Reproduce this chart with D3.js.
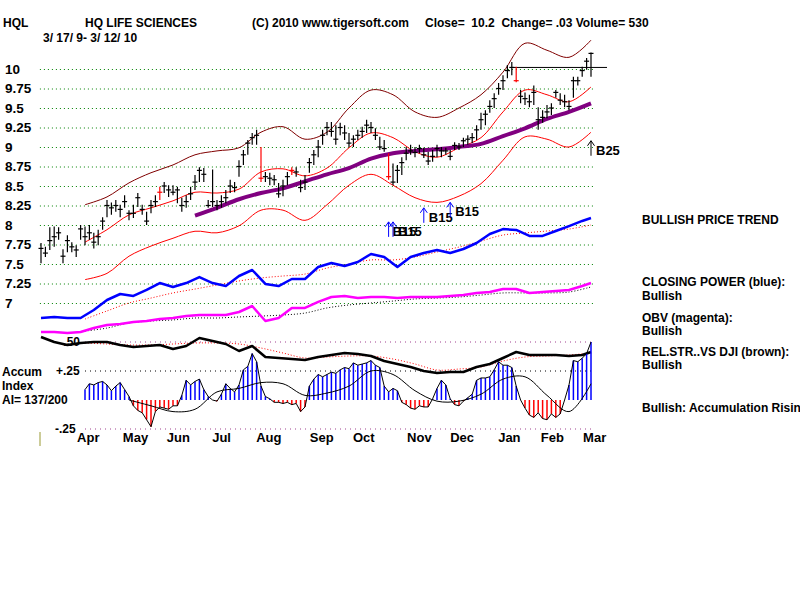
<!DOCTYPE html>
<html>
<head>
<meta charset="utf-8">
<script src="https://cdn.jsdelivr.net/npm/d3@7"></script>
<style>
  body { margin: 0; background: #fff; }
  svg text { font-family: Arial, "Liberation Sans", sans-serif; font-weight: bold; font-size: 12px; fill: #000; }
</style>
</head>
<body>
<script>
// ---- price bars, two trading days per bar (3/17/09 - 3/12/10) ----
const hi = [7.77,7.72,7.97,7.98,7.97,7.69,7.87,7.78,7.74,8.00, 7.98,8.00,7.90,7.94,8.10,8.32,8.29,8.32,8.26,8.38,
  8.19,8.26,8.41,8.26,8.17,8.32,8.38,8.49,8.55,8.51, 8.51,8.49,8.35,8.38,8.49,8.64,8.74,8.73,8.32,8.71,
  8.32,8.38,8.45,8.58,8.55,8.83,8.96,9.09,9.18,9.22, 9.00,8.68,8.67,8.64,8.54,8.58,8.68,8.74,8.74,8.58,
  8.64,8.86,8.96,9.09,9.22,9.32,9.32,9.28,9.31,9.28, 9.18,9.15,9.22,9.26,9.35,9.32,9.24,9.13,9.09,8.92,
  8.79,8.77,8.87,9.00,9.03,9.00,9.03,8.99,8.94,8.96, 9.03,9.00,8.99,8.96,9.06,9.05,9.12,9.15,9.18,9.28,
  9.44,9.47,9.60,9.69,9.82,9.92,10.05,10.09,10.03,9.73, 9.70,9.67,9.79,9.51,9.47,9.54,9.56,9.73,9.69,9.67,
  9.60,9.90,9.90,10.03,10.14,10.21];
const lo = [7.51,7.59,7.68,7.72,7.81,7.51,7.65,7.65,7.59,7.81, 7.74,7.81,7.70,7.74,7.94,8.10,8.13,8.17,8.10,8.22,
  8.06,8.09,8.23,8.13,8.00,8.15,8.23,8.32,8.41,8.36, 8.38,8.28,8.17,8.22,8.32,8.45,8.55,8.55,8.22,8.23,
  8.19,8.22,8.28,8.41,8.42,8.62,8.77,8.90,9.03,9.03, 8.55,8.55,8.51,8.51,8.35,8.37,8.51,8.64,8.62,8.42,
  8.45,8.67,8.77,8.87,9.03,9.15,9.13,9.03,9.15,9.09, 9.00,9.00,9.09,9.12,9.18,9.18,9.09,8.96,8.94,8.58,
  8.51,8.54,8.64,8.83,8.90,8.87,8.92,8.86,8.77,8.81, 8.87,8.87,8.90,8.83,8.96,8.96,9.00,9.03,9.05,9.09,
  9.22,9.28,9.44,9.50,9.67,9.73,9.88,9.92,9.83,9.56, 9.54,9.51,9.54,9.22,9.31,9.37,9.41,9.63,9.54,9.51,
  9.47,9.63,9.79,9.90,9.99,9.90];
const cl = [7.70,7.64,7.80,7.85,7.90,7.60,7.80,7.72,7.68,7.95, 7.85,7.90,7.78,7.85,8.05,8.25,8.22,8.25,8.20,8.30,
  8.15,8.15,8.35,8.20,8.05,8.25,8.30,8.42,8.50,8.45, 8.42,8.45,8.25,8.30,8.40,8.55,8.70,8.65,8.25,8.30,
  8.25,8.30,8.35,8.50,8.48,8.75,8.90,9.05,9.12,9.15, 8.60,8.62,8.60,8.58,8.40,8.50,8.62,8.70,8.68,8.48,
  8.55,8.80,8.90,9.00,9.15,9.25,9.20,9.10,9.25,9.18, 9.05,9.10,9.15,9.20,9.28,9.25,9.15,9.00,8.98,8.62,
  8.55,8.70,8.80,8.92,8.95,8.93,8.98,8.90,8.82,8.88, 8.98,8.95,8.95,8.88,9.02,9.00,9.08,9.10,9.12,9.22,
  9.35,9.42,9.52,9.62,9.75,9.85,9.98,10.02,9.85,9.65, 9.62,9.58,9.70,9.35,9.38,9.45,9.50,9.70,9.60,9.58,
  9.52,9.85,9.85,9.98,10.10,10.20];
const redBars = [27, 50, 57, 79, 108];

// ---- bands and 50-day average, sampled every 5 bars ----
const idx5 = d3.range(0, 126, 5);
const bandUpper = [null,null,8.26,8.36,8.54,8.67,8.77,8.90,8.95,8.99,9.19,9.26,9.10,9.19,9.50,9.73,9.67,9.45,9.38,9.50,9.67,9.96,10.33,10.24,10.15,10.37];
const bandMid   = [null,null,7.78,7.94,8.13,8.22,8.31,8.42,8.41,8.46,8.68,8.72,8.63,8.73,8.99,9.18,9.12,8.94,8.87,8.99,9.12,9.45,9.73,9.67,9.58,9.77];
const bandLower = [null,null,7.30,7.38,7.60,7.73,7.83,7.92,7.90,7.99,8.19,8.19,8.06,8.26,8.51,8.65,8.51,8.35,8.29,8.37,8.53,8.83,9.13,9.10,9.00,9.19];
const ma50 = [null,null,null,null,null,null,null,8.12,8.22,8.33,8.41,8.47,8.56,8.65,8.73,8.85,8.92,8.95,8.97,9.00,9.04,9.14,9.24,9.36,9.45,9.56];

// ---- indicators, sampled every 3 bars ----
const idx3 = d3.range(0, 124, 3).concat([125]);
const closingPower = [28,28.7,28,28,33.3,40,44,42.7,46.7,51.3,48.7,51.3,55.3,51.3,49.3,56,60,50.7,49.3,54,54,62,64.7,62.7,65.3,70.7,68.7,62,68.7,71.3,73.3,71.3,74,78,84,87.3,86.7,82.7,82.7,86,89.3,92.7,94.7];
const closingPowerMa = [null,null,27.3,32.7,38,41.3,44.7,47.3,50,52.7,54.7,56,57.3,61.3,64,66.7,66.7,68.7,72,75.3,79.3,83.3,84.7,86,87.3,90];
const obv = [18.7,18.7,18,18.7,21.3,23.3,24,25.3,26,27.3,28,29.3,30,30,30,32,36,26,28,34.7,34.7,38.7,42,42.7,41.3,42,42,41.3,42,42,42,42.7,43.3,44.7,45.3,47.3,47.3,44.7,45.3,46,46.7,49.3,51.3];
const obvMa = [null,null,19.3,21.3,24.7,26,26.7,28,28,28.7,29.3,30,31.3,34.7,36.7,38,39.3,40.7,41.3,42,43.3,44.7,44.7,44.7,45.3,48.7];
const relStr = [86,76,70,74,76,76,70,66,68,70,62,68,84,78,72,58,68,46,44,42,40,46,50,54,52,48,38,32,26,18,14,16,16,26,32,44,56,50,50,50,48,50,56];
const relStrMa = [null,null,74,72,70,70,72,74,74,72,64,54,44,46,48,48,42,32,20,22,26,38,46,48,50,54];

// ---- accumulation index, one value per bar ----
const accum = [null,null,null,null,null,null,null,null,null,null,
  .09,.14,.13,.15,.16,.13,.08,.12,.15,.09, .03,-.05,-.09,-.11,-.17,-.23,-.1,-.06,-.07,-.08,
  -.05,-.05,.04,.17,.13,.16,.18,.09,.03,0, -.01,.05,.14,.1,.07,.13,.26,.29,.4,.33,
  .12,.03,.01,-.02,-.02,-.03,-.02,-.04,-.03,-.1, -.06,.12,.18,.22,.2,.22,.24,.23,.26,.28,
  .27,.32,.3,.31,.32,.34,.3,.28,.12,.07, .1,.08,-.02,-.04,-.07,-.08,-.05,-.06,-.06,.01,
  .1,.17,.13,.01,-.04,-.05,-.01,.02,.05,.17, .19,.19,.2,.26,.33,.3,.3,.28,.12,0,
  -.07,-.13,-.15,-.11,-.16,-.17,-.12,-.15,-.12,0, .13,.34,.33,.36,.4,.5];
const accumMa = [null,null,null,null,0,-.05,-.1,-.08,.07,.1,.15,.14,.04,.06,.12,.25,.22,.08,-.01,-.01,.05,.18,.2,.04,-.1,.14];

// ---- axis labels, signals, side notes ----
const priceTicks = [10, 9.75, 9.5, 9.25, 9, 8.75, 8.5, 8.25, 8, 7.75, 7.5, 7.25, 7];
const months = ['Apr','May','Jun','Jul','Aug','Sep','Oct','Nov','Dec','Jan','Feb','Mar'];
const monthIdx = [8.2, 18.6, 28.6, 38.9, 48.9, 61.1, 70.9, 83.2, 93, 103.9, 113.6, 123.2];
const sigIdx = [79, 80, 87, 93, 125];
const sigPrice = [8.04, 8.04, 8.22, 8.29, 9.08];
const sigLabel = ['B15', 'B15', 'B15', 'B15', 'B25'];
const sigBlue = [true, true, true, true, false];
const resistanceFrom = 107, resistanceLevel = 10.02;
const sideNotes = [
  ['BULLISH PRICE TREND', 220], ['CLOSING POWER (blue):', 282], ['Bullish', 296],
  ['OBV (magenta):', 318], ['Bullish', 331], ['REL.STR..VS DJI (brown):', 352], ['Bullish', 365],
  ['Bullish: Accumulation Rising', 408]
];

const svg = d3.select('body').append('svg').attr('width', 800).attr('height', 600);

const x = d3.scaleLinear().domain([0, 125]).range([41, 591]);
const y = d3.scaleLinear().domain([7, 10]).range([303, 69]);
const yInd = d3.scaleLinear().domain([0, 100]).range([360, 210]);
const yRs = d3.scaleLinear().domain([0, 100]).range([380, 330]);
const yAi = d3.scaleLinear().domain([-0.25, 0.5]).range([429, 342]);

const gridLeft = x(-0.25), gridRight = x(125.5);

// titles
const title = svg.append('g');
title.append('text').attr('x', 3).attr('y', 27).text('HQL');
title.append('text').attr('x', 85).attr('y', 27).text('HQ LIFE SCIENCES');
title.append('text').attr('x', 252).attr('y', 27).text('(C) 2010 www.tigersoft.com');
title.append('text').attr('x', 425).attr('y', 27).attr('xml:space', 'preserve').style('white-space', 'pre')
  .text('Close=  10.2  Change= .03 Volume= 530');
title.append('text').attr('x', 43).attr('y', 42).attr('xml:space', 'preserve').style('white-space', 'pre')
  .text('3/ 17/ 9- 3/ 12/ 10');

// price grid + labels
const yAxis = d3.axisLeft(y).tickValues(priceTicks).tickSize(-(gridRight - gridLeft))
  .tickFormat(d => String(d));
const ga = svg.append('g').attr('transform', `translate(${gridLeft},0)`).call(yAxis);
ga.select('.domain').remove();
ga.selectAll('.tick line').attr('stroke', '#008000').attr('stroke-dasharray', '1,3');
ga.selectAll('.tick text').attr('text-anchor', 'start').attr('x', 5 - gridLeft)
  .style('font-size', '13.5px').attr('fill', '#000');

// lower panel reference lines
const aiLines = [[0.5, '#a0408f'], [0.25, '#000'], [-0.25, '#a0408f']];
svg.append('g').selectAll('line').data(aiLines).join('line')
  .attr('x1', x(10)).attr('x2', gridRight)
  .attr('y1', d => yAi(d[0])).attr('y2', d => yAi(d[0]))
  .attr('stroke', d => d[1]).attr('stroke-dasharray', '1,4');

svg.append('text').attr('x', 80).attr('y', yAi(0.5)).attr('dy', '0.35em').attr('text-anchor', 'end').text('.50');
svg.append('text').attr('x', 56).attr('y', yAi(0.25)).attr('dy', '0.35em').text('+.25');
svg.append('text').attr('x', 55).attr('y', yAi(-0.25)).attr('dy', '0.35em').text('-.25');
svg.append('text').attr('x', 2).attr('y', 372).attr('dy', '0.35em').text('Accum');
svg.append('text').attr('x', 2).attr('y', 386).attr('dy', '0.35em').text('Index');
svg.append('text').attr('x', 2).attr('y', 400).attr('dy', '0.35em').text('AI= 137/200');
svg.append('line').attr('x1', 40).attr('x2', 40).attr('y1', 432).attr('y2', 446).attr('stroke', '#999933');

// helper for sampled lines
function drawLine(idx, vals, ys, color, width, dash, smooth) {
  const gen = d3.line().defined(d => d[1] != null).x(d => x(d[0])).y(d => ys(d[1]));
  if (smooth) gen.curve(d3.curveCatmullRom);
  svg.append('path').attr('d', gen(idx.map((k, j) => [k, vals[j]]))).attr('fill', 'none')
    .attr('stroke', color).attr('stroke-width', width)
    .attr('stroke-dasharray', dash || null).attr('stroke-linejoin', 'round');
}

// indicators overlaid in the lower price area
drawLine(idx5, closingPowerMa, yInd, '#ff0000', 1, '1,2', true);
drawLine(idx3, closingPower, yInd, '#0000ff', 2.5);
drawLine(idx5, obvMa, yInd, '#000', 1, '1,2', true);
drawLine(idx3, obv, yInd, '#ff00ff', 2.5);
drawLine(idx5, relStrMa, yRs, '#ff0000', 1, '1,2', true);
drawLine(idx3, relStr, yRs, '#000', 2.5);

// accumulation histogram
const bars = accum.map((v, i) => [i, v]).filter(d => d[1] != null);
svg.append('g').selectAll('line').data(bars).join('line')
  .attr('x1', d => x(d[0])).attr('x2', d => x(d[0]))
  .attr('y1', yAi(0)).attr('y2', d => yAi(d[1]))
  .attr('stroke', d => d[1] >= 0 ? '#0000ff' : '#ff0000').attr('stroke-width', 1.5);
svg.append('path').attr('d', d3.line().x(d => x(d[0])).y(d => yAi(d[1]))(bars))
  .attr('fill', 'none').attr('stroke', '#000').attr('stroke-width', 1);
drawLine(idx5, accumMa, yAi, '#000', 1, null, true);

// bands + average
drawLine(idx5, bandUpper, y, '#800000', 1, null, true);
drawLine(idx5, bandMid, y, '#ff0000', 1, null, true);
drawLine(idx5, bandLower, y, '#ff0000', 1, null, true);
drawLine(idx5, ma50, y, '#800080', 4, null, true);

// resistance line
svg.append('line').attr('x1', x(resistanceFrom)).attr('x2', x(125) + 16)
  .attr('y1', y(resistanceLevel)).attr('y2', y(resistanceLevel)).attr('stroke', '#000');

// price bars
const pb = svg.append('g').selectAll('g').data(d3.range(hi.length)).join('g')
  .attr('stroke', i => redBars.includes(i) ? '#ff0000' : '#000').attr('stroke-width', 1.2);
pb.append('line').attr('x1', i => x(i)).attr('x2', i => x(i)).attr('y1', i => y(hi[i])).attr('y2', i => y(lo[i]));
pb.append('line').attr('x1', i => x(i) - 2.5).attr('x2', i => x(i) + 2.5).attr('y1', i => y(cl[i])).attr('y2', i => y(cl[i]));

// signals
const sg = svg.append('g').selectAll('g').data(d3.range(sigIdx.length)).join('g')
  .attr('transform', k => `translate(${x(sigIdx[k])},${y(sigPrice[k])})`);
sg.append('path').attr('d', 'M0,0V15M-3.5,5L0,0L3.5,5').attr('fill', 'none')
  .attr('stroke', k => sigBlue[k] ? '#0000ff' : '#000').attr('stroke-width', 1);
sg.append('text').attr('x', k => k === 0 ? 4 : 5).attr('y', 14).style('font-size', '13px').text(k => sigLabel[k]);

// month labels
svg.append('g').selectAll('text').data(months).join('text')
  .attr('x', (m, k) => x(monthIdx[k])).attr('y', 437).attr('dy', '0.35em')
  .style('font-size', '13px').text(m => m);

// side notes
svg.append('g').selectAll('text').data(sideNotes).join('text')
  .attr('x', 642).attr('y', d => d[1]).attr('dy', '0.35em').text(d => d[0]);
</script>
</body>
</html>
